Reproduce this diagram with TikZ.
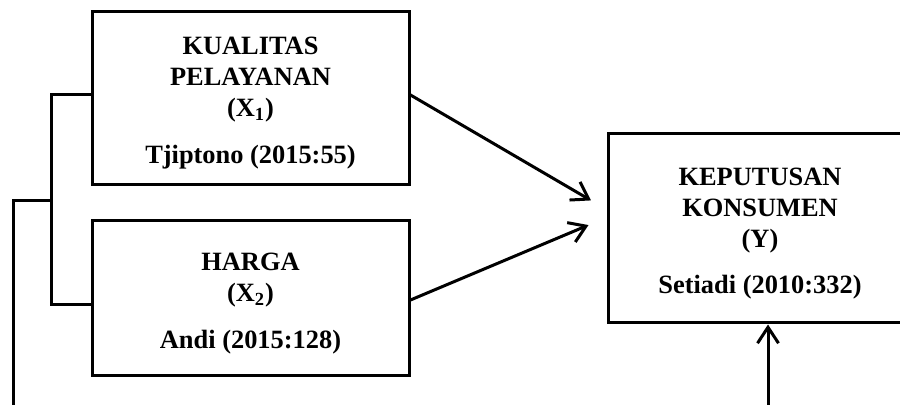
\documentclass[tikz,border=0pt]{standalone}
\usepackage{fontspec}
\setmainfont{Liberation Serif}
\usetikzlibrary{arrows.meta, positioning}

\newcommand{\boxstrut}{\rule{0pt}{13.5pt}}

\begin{document}
\begin{tikzpicture}[
	x=0.5pt, y=-0.5pt,
	line width=1.5pt,
	VarBox/.style={rectangle, draw, align=center,
		font=\fontsize{13.2}{15.5}\selectfont\bfseries},
	MyArrow/.style={-{Straight Barb[length=8pt, width=10.5pt]}}
	]
\clip (0,0) rectangle (900,405);

\node [VarBox, minimum width=158.5pt, minimum height=86.5pt] (kualitas) at (250.5,98.5)
	{\boxstrut KUALITAS\\PELAYANAN\\(X\textsubscript{1})\\[8pt]Tjiptono (2015:55)};
\node [VarBox, minimum width=158.5pt, minimum height=77.5pt] (harga) at (250.5,298.5)
	{\boxstrut HARGA\\(X\textsubscript{2})\\[8pt]Andi (2015:128)};
\node [VarBox, minimum width=152pt, minimum height=94.5pt] (keputusan) at (760,228.5)
	{\boxstrut KEPUTUSAN\\KONSUMEN\\(Y)\\[7.5pt]Setiadi (2010:332)};

% bracket joining the two variables
\coordinate (btop) at (51,95);
\coordinate (bbot) at (51,305);
\coordinate (bmid) at (51,201);
\coordinate (lcorner) at (13,201);
\coordinate (lend) at (13,405);
\coordinate (yend) at (768,405);

\draw (kualitas.west |- btop) -- (btop) -- (bbot) -- (harga.west |- bbot);
\draw (bmid) -- (lcorner) -- (lend);

\draw [MyArrow, shorten >=9pt] ([yshift=1.75pt]kualitas.east) -- ([yshift=9.5pt]keputusan.west);
\draw [MyArrow, shorten >=9.75pt] ([yshift=-0.75pt]harga.east) -- ([yshift=5.5pt]keputusan.west);
\draw [MyArrow] (yend) -- (yend |- keputusan.south);

\end{tikzpicture}
\end{document}
